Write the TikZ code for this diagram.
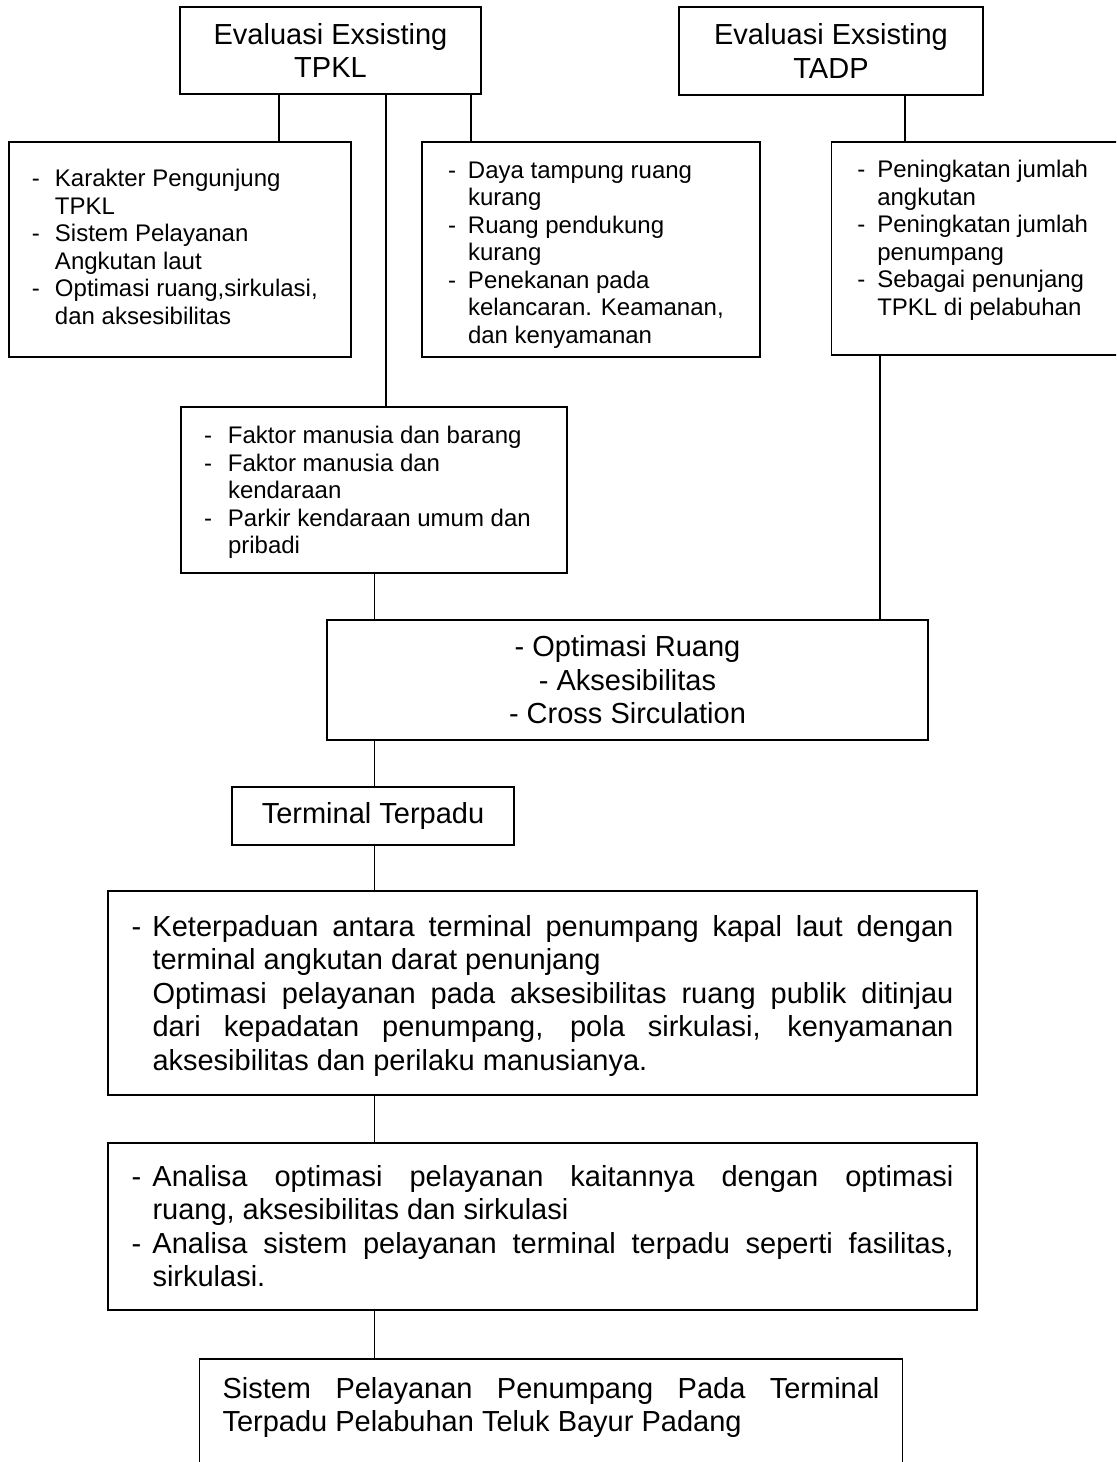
\documentclass[tikz,border=0pt]{standalone}
\usepackage{fontspec}
\setmainfont{Liberation Sans}
\newcommand{\ditem}[1][10pt]{\par\noindent\hangindent=#1\hangafter=1\makebox[#1][l]{-}}
\newcommand{\pad}[1]{\rule[-#1]{0pt}{#1}}

\begin{document}
\begin{tikzpicture}[x=0.5pt, y=-0.5pt,
    box/.style={draw, line width=0.7pt, inner sep=0pt},
    link/.style={line width=0.7pt},
    big/.style={font=\fontsize{14.5}{16.75}\selectfont},
    small/.style={font=\fontsize{12}{13.75}\selectfont},
    ragged/.style={align=flush left},
    just/.style={align=justify, execute at begin node={\tolerance=9999\hyphenpenalty=10000\hbadness=10000}}]

    \useasboundingbox (0,0) rectangle (1116,1462);
    \clip (0,0) rectangle (1116,1462);
    \fill[white] (0,0) rectangle (1116,1462);

    % columns of the connectors
    \coordinate (ca) at (279,0);
    \coordinate (cb) at (386,0);
    \coordinate (cc) at (471,0);
    \coordinate (ce) at (905,0);
    \coordinate (cf) at (880,0);
    \coordinate (cm) at (374.5,0);

    % evaluasi
    \node[box, big, align=center, minimum width=150.5pt, minimum height=43.5pt] (tpkl) at (330.5,50.5) {Evaluasi Exsisting\\TPKL};
    \node[box, big, align=center, minimum width=152pt, minimum height=44pt] (tadp) at (831,51) {Evaluasi Exsisting\\TADP};

    \node[box, small, ragged, text width=148pt, minimum width=171pt, minimum height=107.5pt] (krt) at (180,249.5)
        {\ditem[11.5pt]Karakter Pengunjung\newline TPKL
         \ditem[11.5pt]Sistem Pelayanan\newline Angkutan laut
         \ditem[11.5pt]Optimasi ruang,sirkulasi,\newline dan aksesibilitas\pad{8pt}\par};
    \node[box, small, ragged, text width=143pt, minimum width=169pt, minimum height=107.5pt] (daya) at (591,249.5)
        {\ditem Daya tampung ruang\newline kurang
         \ditem Ruang pendukung\newline kurang
         \ditem Penekanan pada\newline kelancaran. Keamanan,\newline dan kenyamanan\par};
    \node[box, small, ragged, text width=126pt, minimum width=151.75pt, minimum height=106.5pt] (naik) at (983.25,248.5)
        {\ditem Peningkatan jumlah\newline angkutan
         \ditem Peningkatan jumlah\newline penumpang
         \ditem Sebagai penunjang\newline TPKL di pelabuhan\pad{16pt}\par};

    \node[box, small, ragged, text width=170pt, minimum width=193pt, minimum height=83pt] (faktor) at (374,490)
        {\ditem[12pt]Faktor manusia dan barang
         \ditem[12pt]Faktor manusia dan\newline kendaraan
         \ditem[12pt]Parkir kendaraan umum dan\newline pribadi\pad{5pt}\par};

    \node[box, big, align=center, minimum width=300.5pt, minimum height=60pt] (opt) at (627.5,680)
        {- Optimasi Ruang\\- Aksesibilitas\\- Cross Sirculation};
    \node[box, big, minimum width=141pt, minimum height=29pt] (terpadu) at (373,816) {Terminal Terpadu};

    \node[box, big, just, text width=411pt, minimum width=434.5pt, minimum height=102pt] (ket) at (542.5,993)
        {\ditem[10.5pt]Keterpaduan antara terminal penumpang kapal laut dengan\linebreak
         terminal angkutan darat penunjang\newline
         Optimasi pelayanan pada aksesibilitas ruang publik ditinjau\linebreak
         dari kepadatan penumpang, pola sirkulasi, kenyamanan\linebreak
         aksesibilitas dan perilaku manusianya.\pad{6.6pt}\par};
    \node[box, big, just, text width=411pt, minimum width=434.5pt, minimum height=83.5pt] (anl) at (542.5,1226.5)
        {\ditem[10.5pt]Analisa optimasi pelayanan kaitannya dengan optimasi\linebreak
         ruang, aksesibilitas dan sirkulasi
         \ditem[10.5pt]Analisa sistem pelayanan terminal terpadu seperti fasilitas,\linebreak
         sirkulasi.\pad{6.6pt}\par};
    \node[box, big, just, text width=328.5pt, minimum width=351.5pt, minimum height=55.5pt] (sis) at (551,1414.5)
        {Sistem Pelayanan Penumpang Pada Terminal\linebreak
         Terpadu Pelabuhan Teluk Bayur Padang\pad{10pt}\par};

    % connectors
    \draw[link] (ca |- tpkl.south) -- (ca |- krt.north);
    \draw[link] (cb |- tpkl.south) -- (cb |- faktor.north);
    \draw[link] (cc |- tpkl.south) -- (cc |- daya.north);
    \draw[link] (ce |- tadp.south) -- (ce |- naik.north);
    \draw[link] (cf |- naik.south) -- (cf |- opt.north);
    \foreach \a/\b in {faktor/opt, opt/terpadu, terpadu/ket, ket/anl, anl/sis}
        \draw[link] (cm |- \a.south) -- (cm |- \b.north);
\end{tikzpicture}
\end{document}
